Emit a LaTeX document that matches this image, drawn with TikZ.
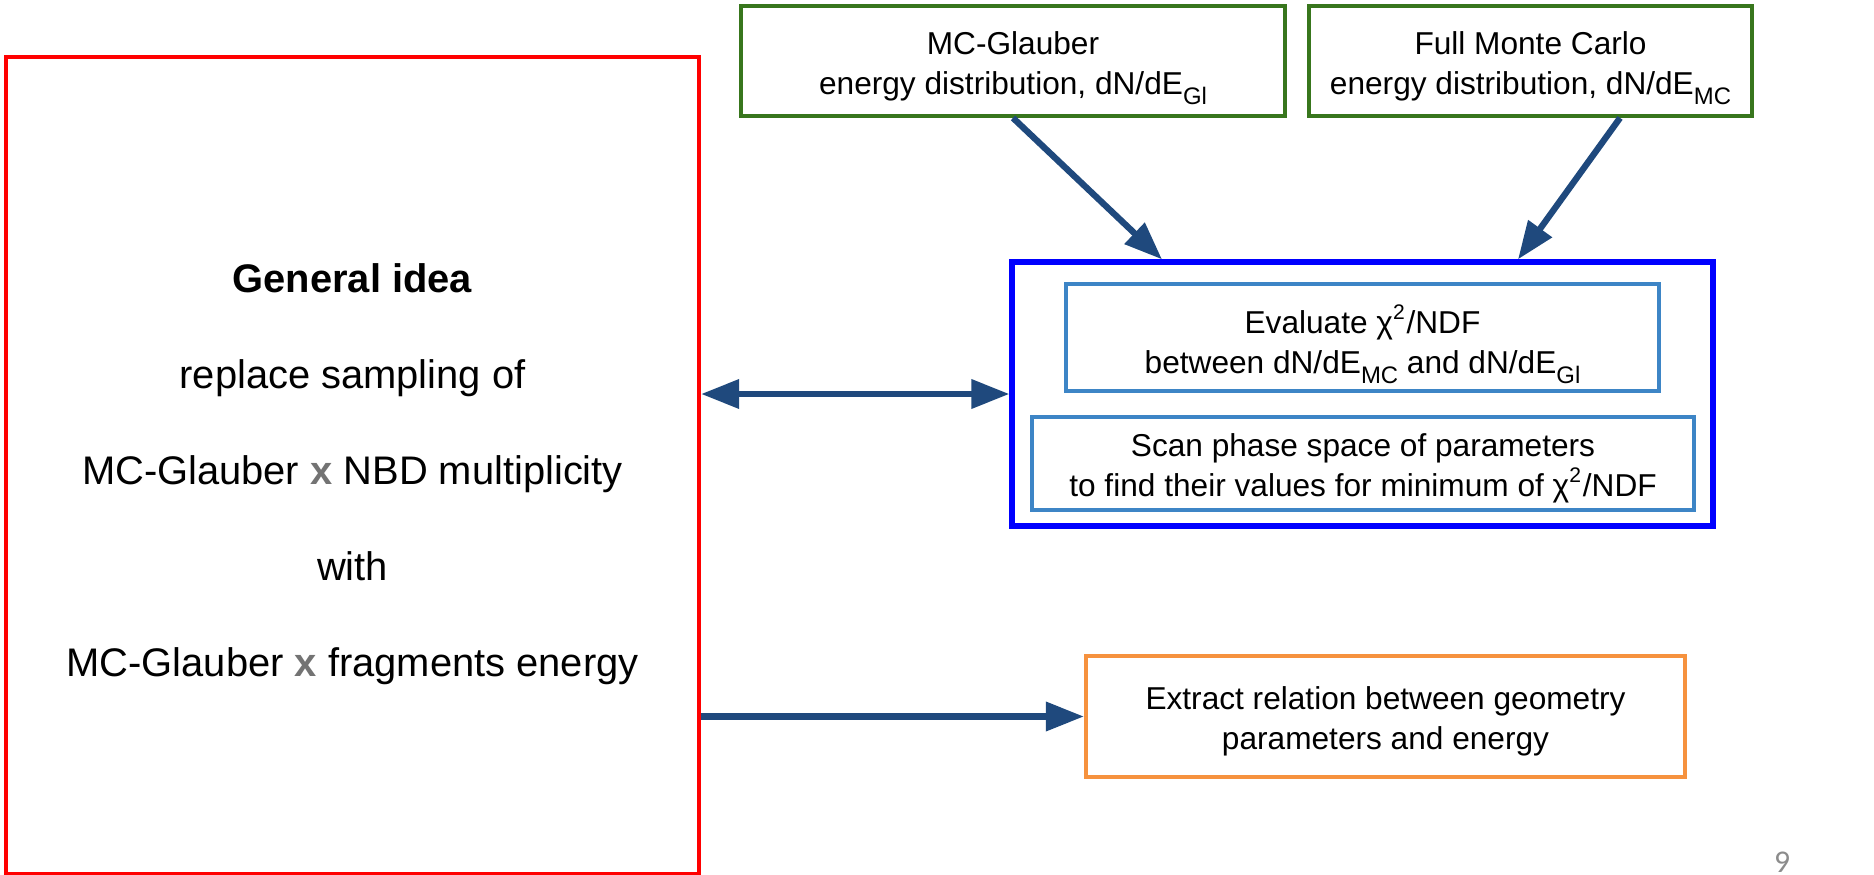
\documentclass[tikz,border=0pt]{standalone}
\usepackage{fontspec}
\setmainfont{Liberation Sans}
\newfontfamily\slidenum{Carlito}
\usetikzlibrary{arrows.meta,calc,positioning}
\definecolor{IdeaRed}{HTML}{FF0000}
\definecolor{InGreen}{HTML}{38761D}
\definecolor{FitBlue}{HTML}{0000FF}
\definecolor{StepBlue}{HTML}{3D85C6}
\definecolor{OutOrange}{HTML}{F6923E}
\definecolor{ArrowBlue}{HTML}{1F497D}
\newcommand\padtop[1]{\rule{0pt}{#1}}
\newcommand\lowsub[1]{\raisebox{-3pt}[\height][0pt]{\fontsize{6.8}{7}\selectfont #1}}

\begin{document}
\begin{tikzpicture}[x=1cm,y=1cm,font=\fontsize{9}{11.4}\selectfont,
 line width=1.1pt,>={Triangle[length=10.8pt,width=8pt]},
 every node/.style={inner sep=0pt,align=center},
 link/.style={ArrowBlue,line width=1.8pt}]
\useasboundingbox (0,0) rectangle (18.74,-8.75);
\node[draw=IdeaRed,line width=1.2pt,minimum width=6.93cm,minimum height=8.17cm,
 font=\fontsize{11.35}{27.3}\selectfont] (idea) at (3.525,-4.655)
 {\padtop{13.3pt}\textbf{General idea}\\replace sampling of\\MC-Glauber \textcolor{black!55}{\textbf{x}} NBD multiplicity\\with\\MC-Glauber \textcolor{black!55}{\textbf{x}} fragments energy};
\node[draw=InGreen,minimum width=5.44cm,minimum height=1.10cm] (glauber) at (10.13,-0.61)
 {\padtop{9.5pt}MC-Glauber\\energy distribution, dN/dE\lowsub{Gl}};
\node[draw=InGreen,minimum width=4.43cm,minimum height=1.10cm] (fullmc) at (15.305,-0.61)
 {\padtop{9.5pt}Full Monte Carlo\\energy distribution, dN/dE\lowsub{MC}};
\node[draw=FitBlue,line width=1.5pt,minimum width=7.01cm,minimum height=2.64cm] (fit) at (13.625,-3.94) {};
\node[draw=StepBlue,line width=.9pt,minimum width=5.93cm,minimum height=1.07cm] (chi) at (13.625,-3.375)
 {\padtop{9pt}Evaluate χ\textsuperscript{2}/NDF\\between dN/dE\lowsub{MC} and dN/dE\lowsub{Gl}};
\node[draw=StepBlue,line width=.9pt,minimum width=6.62cm,minimum height=.93cm] (scan) at (13.63,-4.635)
 {\padtop{9pt}Scan phase space of parameters\\to find their values for minimum of χ\textsuperscript{2}/NDF};
\node[draw=OutOrange,line width=1.2pt,minimum width=5.99cm,minimum height=1.21cm] (extract) at (13.855,-7.165)
 {\padtop{9pt}Extract relation between geometry\\parameters and energy};
\node[text=black!45,font=\slidenum\fontsize{9}{10}\selectfont] (pagenum) at (17.82,-8.62) {9};
\draw[link,->] (glauber.south) -- ([xshift=-2.005cm]fit.north);
\draw[link,->] ([xshift=.895cm]fullmc.south) -- ([xshift=1.555cm]fit.north);
\draw[link,<->] (idea.east |- fit.west) -- (fit.west);
\draw[link,->] (idea.east |- extract.west) -- (extract.west);
\end{tikzpicture}
\end{document}
